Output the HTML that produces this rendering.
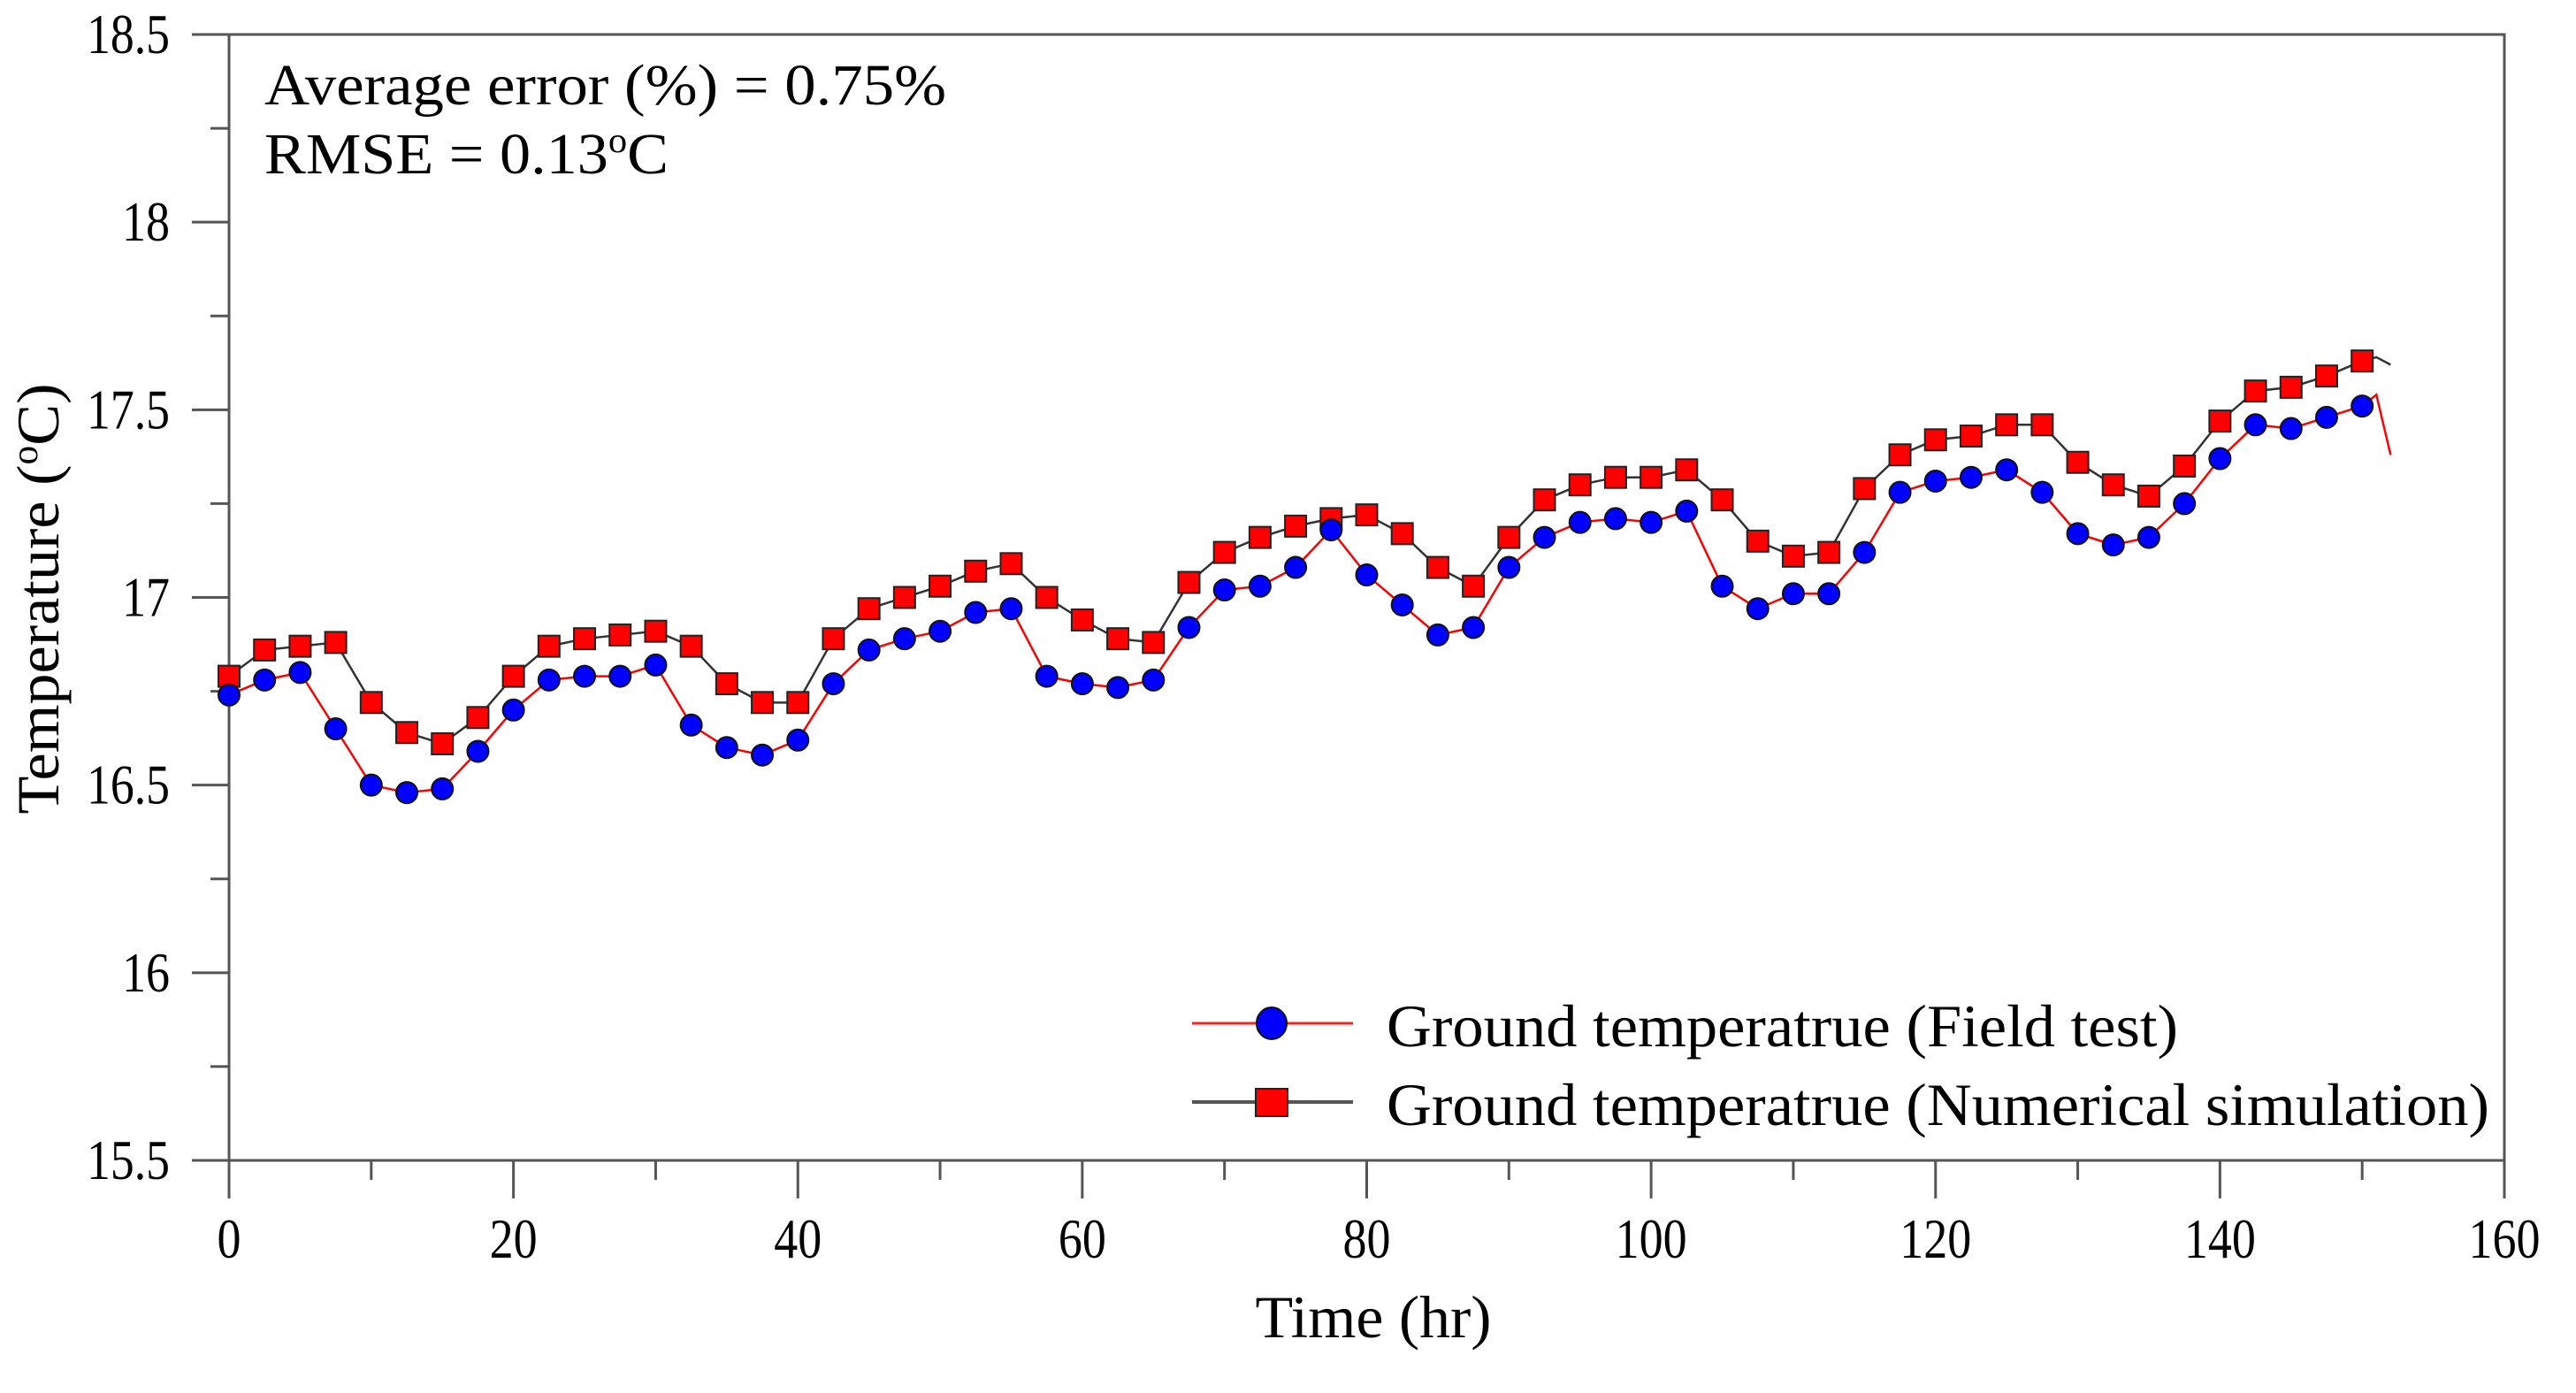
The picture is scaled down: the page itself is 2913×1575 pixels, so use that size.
<!DOCTYPE html>
<html><head><meta charset="utf-8"><style>
html,body{margin:0;padding:0;background:#fff;}
svg{display:block;}
text{font-family:"Liberation Serif","Times New Roman",serif;}
</style></head><body>
<svg id="chart" width="2913" height="1575" viewBox="0 0 2913 1575" xmlns="http://www.w3.org/2000/svg">
<rect width="2913" height="1575" fill="#fff"/>
<g id="axes"></g>
<g id="series"></g>
<text x="299" y="118" font-size="66" textLength="771" lengthAdjust="spacingAndGlyphs">Average error (%) = 0.75%</text>
<text x="299" y="196" font-size="66" textLength="457" lengthAdjust="spacingAndGlyphs">RMSE = 0.13<tspan font-size="40" dy="-24">o</tspan><tspan dy="24">C</tspan></text>
<text transform="translate(66,677) rotate(-90)" text-anchor="middle" font-size="68" textLength="487" lengthAdjust="spacingAndGlyphs">Temperature (<tspan font-size="42" dy="-24">o</tspan><tspan dy="24">C)</tspan></text>
<text x="1553" y="1512" text-anchor="middle" font-size="68" textLength="267" lengthAdjust="spacingAndGlyphs">Time (hr)</text>
<g>
  <line x1="1348" y1="1157" x2="1530" y2="1157" stroke="#ff2020" stroke-width="3"/>
  <ellipse cx="1438" cy="1157" rx="17" ry="18" fill="#0000ff" stroke="#111" stroke-width="2"/>
  <text x="1568" y="1183" font-size="68" textLength="895" lengthAdjust="spacingAndGlyphs">Ground temperatrue (Field test)</text>
  <line x1="1348" y1="1246" x2="1530" y2="1246" stroke="#555" stroke-width="4"/>
  <rect x="1420" y="1231" width="36" height="31" fill="#ff0000" stroke="#222" stroke-width="2"/>
  <text x="1568" y="1272" font-size="68" textLength="1247" lengthAdjust="spacingAndGlyphs">Ground temperatrue (Numerical simulation)</text>
</g>
</svg>
<script>
const timeHr = [0,2.5,5,7.5,10,12.5,15,17.5,20,22.5,25,27.5,30,32.5,35,37.5,40,42.5,45,47.5,50,52.5,55,57.5,60,62.5,65,67.5,70,72.5,75,77.5,80,82.5,85,87.5,90,92.5,95,97.5,100,102.5,105,107.5,110,112.5,115,117.5,120,122.5,125,127.5,130,132.5,135,137.5,140,142.5,145,147.5,150];
const fieldTemp = [16.74,16.78,16.80,16.65,16.50,16.48,16.49,16.59,16.70,16.78,16.79,16.79,16.82,16.66,16.60,16.58,16.62,16.77,16.86,16.89,16.91,16.96,16.97,16.79,16.77,16.76,16.78,16.92,17.02,17.03,17.08,17.18,17.06,16.98,16.90,16.92,17.08,17.16,17.20,17.21,17.20,17.23,17.03,16.97,17.01,17.01,17.12,17.28,17.31,17.32,17.34,17.28,17.17,17.14,17.16,17.25,17.37,17.46,17.45,17.48,17.51];
const simTemp = [16.79,16.86,16.87,16.88,16.72,16.64,16.61,16.68,16.79,16.87,16.89,16.90,16.91,16.87,16.77,16.72,16.72,16.89,16.97,17.00,17.03,17.07,17.09,17.00,16.94,16.89,16.88,17.04,17.12,17.16,17.19,17.21,17.22,17.17,17.08,17.03,17.16,17.26,17.30,17.32,17.32,17.34,17.26,17.15,17.11,17.12,17.29,17.38,17.42,17.43,17.46,17.46,17.36,17.30,17.27,17.35,17.47,17.55,17.56,17.59,17.63];
const fieldTailTime = [151,152];
const fieldTailTemp = [17.54,17.38];
const simTailTime = [151,152];
const simTailTemp = [17.64,17.62];
const xTicks = [0,20,40,60,80,100,120,140,160];
const yTicks = [15.5,16,16.5,17,17.5,18,18.5];
const yTickLabels = ["15.5","16","16.5","17","17.5","18","18.5"];

const L=259,R=2832,T=39,B=1312,X0=0,X1=160,Y0=15.5,Y1=18.5;
function xs(v){return L+(v-X0)/(X1-X0)*(R-L);}
function ys(v){return B-(v-Y0)/(Y1-Y0)*(B-T);}
function labW(s){let w=0;for(const c of s)w+=(c==='.'?13:27);return w;}
const NS="http://www.w3.org/2000/svg";
function mk(tag,attrs,parent){const e=document.createElementNS(NS,tag);for(const k in attrs)e.setAttribute(k,attrs[k]);parent.appendChild(e);return e;}
const ax=document.getElementById('axes');
const sg=document.getElementById('series');

let e=mk('rect',{x:L,y:T,width:R-L,height:B-T,fill:'none',stroke:'#555','stroke-width':3},ax);


xTicks.forEach((v,i)=>{
  let t=mk('line',{x1:xs(v),y1:B,x2:xs(v),y2:B+43,stroke:'#555','stroke-width':3},ax);
  
  
  const s=String(v);
  let lb=mk('text',{x:xs(v),y:B+110,'text-anchor':'middle','font-size':64,textLength:labW(s),lengthAdjust:'spacingAndGlyphs'},ax);
  lb.textContent=s;
  
  
  if(i<xTicks.length-1){
    let m=mk('line',{x1:xs(v+10),y1:B,x2:xs(v+10),y2:B+22,stroke:'#555','stroke-width':3},ax);
    
    
  }
});
yTicks.forEach((v,i)=>{
  let t=mk('line',{x1:L-42,y1:ys(v),x2:L,y2:ys(v),stroke:'#555','stroke-width':3},ax);
  
  
  const s=yTickLabels[i];
  let lb=mk('text',{x:192,y:ys(v)+21,'text-anchor':'end','font-size':64,textLength:labW(s),lengthAdjust:'spacingAndGlyphs'},ax);
  lb.textContent=s;
  
  
  if(i<yTicks.length-1){
    let m=mk('line',{x1:L-21,y1:ys(v+0.25),x2:L,y2:ys(v+0.25),stroke:'#555','stroke-width':3},ax);
    
    
  }
});

function pts(tx,ty,ex,ey){return tx.map((t,i)=>xs(t)+','+ys(ty[i])).concat(ex.map((t,i)=>xs(t)+','+ys(ey[i]))).join(' ');}
let sl=mk('polyline',{points:pts(timeHr,simTemp,simTailTime,simTailTemp),fill:'none',stroke:'#333','stroke-width':2.5},sg);


let fl=mk('polyline',{points:pts(timeHr,fieldTemp,fieldTailTime,fieldTailTemp),fill:'none',stroke:'#ff0000','stroke-width':2.5},sg);


timeHr.forEach((t,i)=>{
  let s=mk('rect',{x:xs(t)-12,y:ys(simTemp[i])-12,width:24,height:24,fill:'#ff0000',stroke:'#222','stroke-width':2},sg);
  
  
});
timeHr.forEach((t,i)=>{
  let c=mk('circle',{cx:xs(t),cy:ys(fieldTemp[i]),r:12,fill:'#0000ff',stroke:'#111','stroke-width':2},sg);
  
  
});
</script>
</body></html>
